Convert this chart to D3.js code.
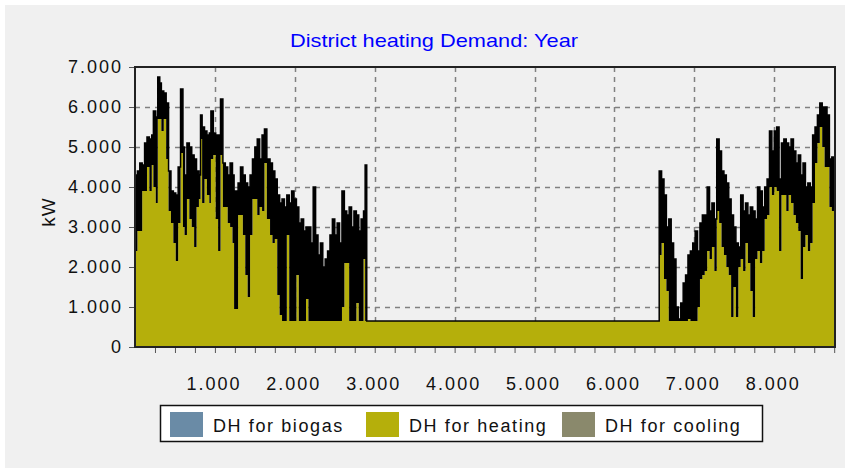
<!DOCTYPE html>
<html>
<head>
<meta charset="utf-8">
<script src="https://cdn.jsdelivr.net/npm/d3@7"></script>
<style>
  html, body { margin: 0; padding: 0; background: #fff; }
  svg text { font-family: "Liberation Sans", Arial, sans-serif; }
</style>
</head>
<body>
<svg id="canvas" width="845" height="468"></svg>
<script>
// hour of year, with the upper (daily max) and lower (daily min) demand in kW
var hours = [0, 30, 60, 90, 120, 150, 180, 210, 230, 260, 285, 310, 330, 360, 390, 420, 450, 480, 510, 540,
  570, 600, 620, 650, 680, 710, 740, 770, 800, 820, 840, 870, 900, 930, 950, 980, 1010, 1040, 1070, 1100,
  1130, 1160, 1190, 1220, 1240, 1260, 1290, 1320, 1350, 1380, 1410, 1440, 1470, 1500, 1530, 1560, 1590, 1620, 1650, 1690,
  1720, 1750, 1780, 1810, 1840, 1870, 1900, 1930, 1960, 1990, 2020, 2050, 2080, 2110, 2140, 2170, 2200, 2230, 2260, 2290,
  2320, 2350, 2380, 2410, 2440, 2470, 2500, 2530, 2560, 2590, 2620, 2650, 2680, 2710, 2740, 2770, 2800, 2830, 2860, 2880,
  2900, 6540, 6560, 6590, 6620, 6650, 6680, 6710, 6740, 6770, 6800, 6830, 6860, 6890, 6920, 6950, 6980, 7010, 7040, 7070,
  7100, 7130, 7160, 7190, 7220, 7250, 7280, 7310, 7340, 7370, 7400, 7430, 7460, 7490, 7520, 7550, 7580, 7610, 7640, 7670,
  7700, 7730, 7760, 7790, 7820, 7850, 7880, 7910, 7940, 7970, 8000, 8030, 8060, 8090, 8120, 8150, 8180, 8210, 8240, 8270,
  8300, 8330, 8360, 8390, 8420, 8450, 8480, 8510, 8540, 8570, 8600, 8630, 8660, 8690, 8720, 8760];

var upper = [4300, 4400, 4600, 4550, 5100, 5250, 5200, 5300, 5900, 5750, 6750, 6600, 6400, 6350, 6100, 4400, 3900, 3850, 3800, 4500,
  6450, 5000, 4300, 5100, 5000, 4800, 4700, 4400, 4300, 5800, 5500, 5400, 5300, 5350, 5900, 5350, 5300, 5300, 6200, 4600,
  4500, 4300, 4600, 4300, 3900, 3900, 4100, 4500, 4300, 4100, 4000, 4300, 4700, 5000, 5200, 4700, 5300, 5450, 4700, 4600,
  4400, 4200, 3800, 3600, 3700, 3500, 3800, 3600, 3900, 3700, 3500, 3100, 3200, 2900, 3000, 3000, 2600, 4000, 2800, 2300,
  2600, 2000, 2200, 2400, 2800, 3200, 2800, 3100, 2600, 3900, 3400, 3300, 3500, 3000, 3400, 3300, 2900, 3200, 3400, 4550,
  650, 650, 4400, 4200, 3800, 3000, 3200, 2600, 2200, 1000, 700, 1100, 1600, 1800, 2300, 2400, 2600, 2900, 2400, 3100,
  3300, 3300, 4000, 3400, 3600, 3200, 5200, 4900, 4400, 4300, 4100, 3700, 3300, 3000, 2600, 2500, 3800, 3400, 3600, 3300,
  3500, 3400, 3200, 4000, 3900, 3500, 4000, 4200, 5400, 4900, 5400, 5500, 4200, 5100, 5200, 5100, 5000, 5200, 4900, 4600,
  4800, 4300, 4600, 4000, 4100, 4000, 5300, 5500, 5800, 6100, 6000, 6000, 5800, 4700, 4750, 4750];

var lower = [2400, 2900, 2900, 3900, 3900, 4500, 3900, 4550, 4000, 3600, 5700, 5700, 5400, 5700, 4700, 3400, 3100, 2600, 2150, 3100,
  4850, 3000, 2800, 3700, 3200, 3000, 2500, 3500, 3700, 5200, 3600, 4200, 3800, 3600, 4700, 4800, 3200, 2400, 4800, 3500,
  3500, 3100, 3000, 2600, 950, 950, 3300, 3300, 2800, 1800, 1250, 2800, 3700, 3700, 3300, 3500, 3400, 4600, 3200, 2800,
  2600, 2700, 1300, 800, 650, 650, 2800, 650, 650, 650, 1800, 650, 650, 650, 1200, 650, 650, 650, 650, 650,
  650, 650, 650, 650, 650, 650, 650, 650, 650, 1000, 2100, 2100, 650, 650, 650, 1100, 650, 650, 2200, 650,
  650, 650, 2300, 2600, 1700, 1400, 650, 650, 650, 650, 650, 650, 650, 650, 700, 650, 650, 650, 1000, 1700,
  1800, 1900, 2400, 2200, 2500, 1900, 3400, 3100, 2500, 2300, 2000, 1800, 750, 1500, 750, 2000, 2200, 1900, 2600, 2100,
  1400, 750, 2200, 2400, 2100, 2400, 3200, 3300, 4000, 3800, 4000, 3900, 2400, 3800, 3800, 3400, 3800, 3600, 3300, 3100,
  2900, 1700, 2500, 2800, 2400, 2600, 3600, 4600, 5100, 5500, 5000, 4500, 4500, 3500, 3400, 3500];

var yTicks = [0, 1000, 2000, 3000, 4000, 5000, 6000, 7000];
var xTicks = [1000, 2000, 3000, 4000, 5000, 6000, 7000, 8000];

var legendNames = ["DH for biogas", "DH for heating", "DH for cooling"];
var legendColors = ["#6a8ba6", "#b5af0b", "#8a896c"];

var svg = d3.select("#canvas");

var margin = {left: 135, right: 10, top: 67, bottom: 121},
    plotW = 845 - margin.left - margin.right,
    plotH = 468 - margin.top - margin.bottom;

var dot = d3.formatLocale({decimal: ",", thousands: ".", grouping: [3], currency: ["", ""]}).format(",d");

var x = d3.scaleLinear().domain([0, 8760]).range([margin.left, margin.left + plotW]);
var y = d3.scaleLinear().domain([0, 7000]).range([margin.top + plotH, margin.top]);

// panel background
svg.append("rect")
  .attr("x", 5).attr("y", 5)
  .attr("width", 840).attr("height", 463)
  .style("fill", "#f0f0f0");

svg.append("text")
  .attr("x", 434).attr("y", 47)
  .attr("text-anchor", "middle")
  .style("font-size", "19px")
  .attr("textLength", 288)
  .attr("lengthAdjust", "spacingAndGlyphs")
  .style("fill", "#0000ff")
  .text("District heating Demand: Year");

// grid
var grid = svg.append("g")
  .style("stroke", "#808080")
  .style("stroke-width", 1.5)
  .style("stroke-dasharray", "5,5");

grid.selectAll(".gx")
  .data(xTicks)
  .enter().append("line")
  .attr("x1", function(d) { return Math.round(x(d)) + 0.5; })
  .attr("x2", function(d) { return Math.round(x(d)) + 0.5; })
  .attr("y1", y(7000)).attr("y2", y(0));

grid.selectAll(".gy")
  .data(yTicks.slice(1, -1))
  .enter().append("line")
  .attr("y1", function(d) { return Math.round(y(d)) + 0.5; })
  .attr("y2", function(d) { return Math.round(y(d)) + 0.5; })
  .attr("x1", x(0)).attr("x2", x(8760));

var data = hours.map(function(h, i) {
  return {h: h, hi: upper[i], lo: lower[i]};
});

var band = d3.area()
  .curve(d3.curveStepAfter)
  .x(function(d) { return x(d.h); })
  .y0(function(d) { return y(d.lo); })
  .y1(function(d) { return y(d.hi); });

var base = d3.area()
  .curve(d3.curveStepAfter)
  .x(function(d) { return x(d.h); })
  .y0(y(0))
  .y1(function(d) { return y(d.lo); });

var topLine = d3.line()
  .curve(d3.curveStepAfter)
  .x(function(d) { return x(d.h); })
  .y(function(d) { return y(d.hi); });

svg.append("path")
  .attr("d", base(data))
  .style("fill", legendColors[1]);

svg.append("path")
  .attr("d", band(data))
  .style("fill", "#000");

svg.append("path")
  .attr("d", topLine(data))
  .style("fill", "none")
  .style("stroke", "#000")
  .style("stroke-width", 1.5);

// plot frame
svg.append("rect")
  .attr("x", x(0)).attr("y", y(7000))
  .attr("width", plotW).attr("height", plotH)
  .style("fill", "none")
  .style("stroke", "#222")
  .style("stroke-width", 2);

// axes
var xAxis = svg.append("g")
  .attr("transform", "translate(0," + (y(0) + 1) + ")")
  .call(d3.axisBottom(x).tickValues(d3.range(250, 8760, 250)).tickSize(5).tickFormat(""));
xAxis.selectAll("text").remove();
xAxis.select(".domain").remove();
xAxis.selectAll("line").style("stroke", "#555");

svg.append("g")
  .selectAll("text")
  .data(xTicks)
  .enter().append("text")
  .attr("x", function(d) { return x(d) - 1; })
  .attr("y", 390)
  .attr("text-anchor", "middle")
  .style("font-size", "18px")
  .style("letter-spacing", "2px")
  .style("fill", "#111")
  .text(dot);

var yAxis = svg.append("g")
  .attr("transform", "translate(" + (x(0) - 1) + ",0)")
  .call(d3.axisLeft(y).tickValues(yTicks).tickSize(5).tickPadding(6).tickFormat(dot));
yAxis.select(".domain").remove();
yAxis.selectAll("line").style("stroke", "#555");
yAxis.selectAll("text")
  .style("font-size", "18px")
  .style("letter-spacing", "2px")
  .style("fill", "#111")
  .attr("font-family", null);

svg.append("text")
  .attr("transform", "translate(55,212) rotate(-90)")
  .attr("text-anchor", "middle")
  .style("font-size", "19px")
  .style("letter-spacing", "1px")
  .style("fill", "#111")
  .text("kW");

// legend
var legend = svg.append("g");
legend.append("rect")
  .attr("x", 160.5).attr("y", 405.5)
  .attr("width", 602).attr("height", 36)
  .style("fill", "#fff")
  .style("stroke", "#111")
  .style("stroke-width", 1.5);

var itemX = [170, 366, 562];
var item = legend.selectAll(".item")
  .data(legendNames)
  .enter().append("g")
  .attr("transform", function(d, i) { return "translate(" + itemX[i] + ",412)"; });

item.append("rect")
  .attr("width", 33).attr("height", 25)
  .style("fill", function(d, i) { return legendColors[i]; });

item.append("text")
  .attr("x", 43).attr("y", 20)
  .style("font-size", "18px")
  .style("letter-spacing", "1.6px")
  .style("fill", "#111")
  .text(function(d) { return d; });
</script>
</body>
</html>
